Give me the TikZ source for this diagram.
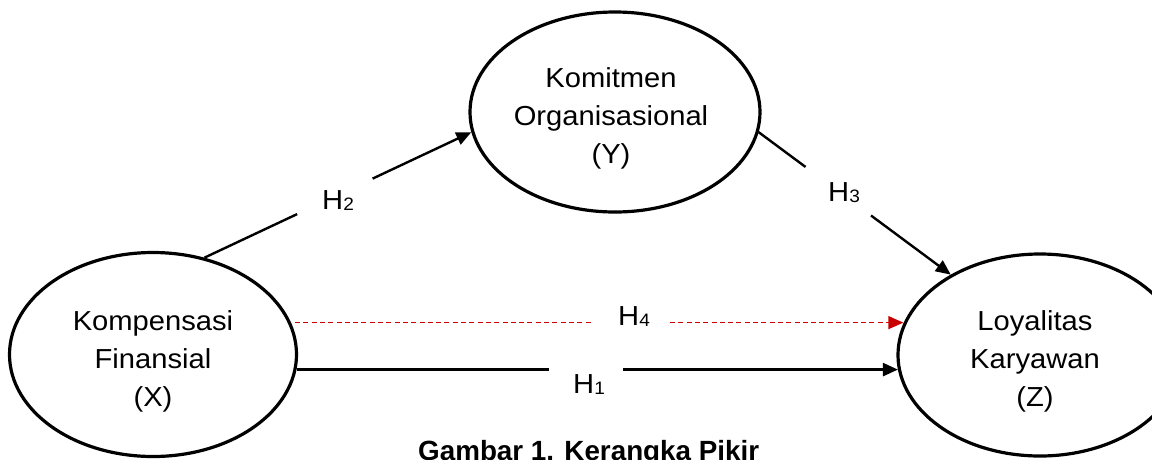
\documentclass[tikz,border=0pt]{standalone}
\usepackage{fontspec}
\setmainfont{Liberation Sans}[FakeStretch=1.06]
\newfontfamily\capfont{Liberation Sans}
\usetikzlibrary{shapes.geometric,arrows.meta}
\definecolor{hred}{RGB}{200,0,0}
\newcommand\hsub[1]{\raisebox{-1pt}{\fontsize{18}{18}\selectfont #1}}
\begin{document}
\begin{tikzpicture}[x=1pt,y=-1pt,
  var/.style={draw, ellipse, line width=3.2pt, inner sep=0pt},
  vtext/.style={align=center, font=\fontsize{27.5}{38}\selectfont, inner sep=0pt},
  conn/.style={line width=2.4pt},
  tipped/.style={conn, -{Triangle[length=15pt,width=13pt]}},
  hyp/.style={draw=hred, line width=1.3pt, dash pattern=on 5pt off 3.3pt},
  hyptip/.style={hyp, -{Triangle[length=15pt,width=13pt,fill=hred]}},
  lbl/.style={anchor=base west, inner sep=0pt, font=\fontsize{27.5}{30}\selectfont},
  captext/.style={anchor=base west, inner sep=0pt, font=\capfont\bfseries\fontsize{27.8}{30}\selectfont}
  ]
\useasboundingbox (0,0) rectangle (1152,459);
\clip (0,0) rectangle (1152,459);

% variables
\node[var, minimum width=287pt, minimum height=204pt] (X) at (153,354.5) {};
\node[var, minimum width=290pt, minimum height=200pt] (Y) at (615,112) {};
\node[var, minimum width=284pt, minimum height=202pt] (Z) at (1040,355) {};

\node[vtext] (Xt) at (153,361) {Kompensasi\\Finansial\\(X)};
\node[vtext] (Yt) at (611,118) {Komitmen\\Organisasional\\(Y)};
\node[vtext] (Zt) at (1035,361) {Loyalitas\\Karyawan\\(Z)};

% H2
\path (X.62) -- (Y.188) coordinate[pos=0.347] (h2a) coordinate[pos=0.63] (h2b);
\draw[conn] (X.62) -- (h2a);
\draw[tipped] (h2b) -- (Y.188);

% H3
\path (Y.-8) -- (Z.138) coordinate[pos=0.244] (h3a) coordinate[pos=0.585] (h3b);
\draw[conn] (Y.-8) -- (h3a);
\draw[tipped] (h3b) -- (Z.138);

% H4
\coordinate (h4e) at (Z.167 |- X.13);
\path (X.13) -- (h4e) coordinate[pos=0.492] (h4a) coordinate[pos=0.619] (h4b);
\draw[hyp, shorten <=4pt] (X.13) -- (h4a);
\draw[hyptip] (h4b) -- (h4e);

% H1
\coordinate (h1e) at (Z.186 |- X.-6.5);
\path (X.-6.5) -- (h1e) coordinate[pos=0.419] (h1a) coordinate[pos=0.543] (h1b);
\draw[conn] (X.-6.5) -- (h1a);
\draw[tipped] (h1b) -- (h1e);

% labels
\node[lbl] (l2) at (322,209) {H\hsub{2}};
\node[lbl] (l3) at (828,201) {H\hsub{3}};
\node[lbl] (l4) at (618,325) {H\hsub{4}};
\node[lbl] (l1) at (573,393) {H\hsub{1}};

% caption
\node[captext] (cap) at (418,460) {Gambar 1. Kerangka Pikir};
\end{tikzpicture}
\end{document}
